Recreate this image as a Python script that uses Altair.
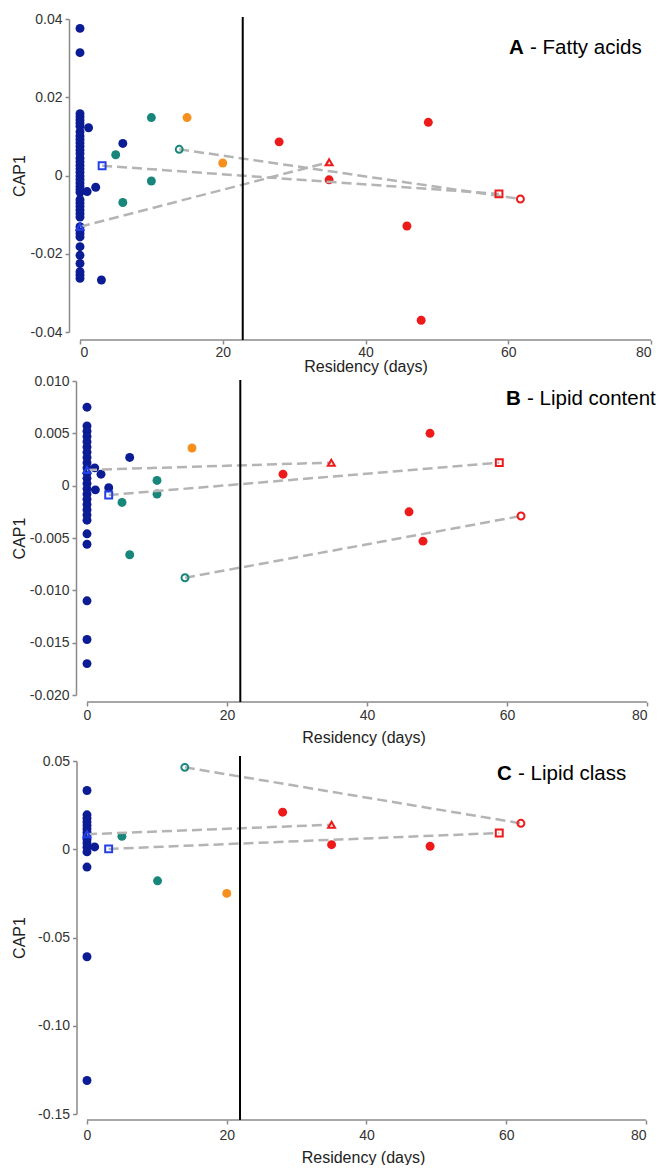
import altair as alt
import pandas as pd

FONT = "Liberation Sans"
NAVY, TEAL, ORANGE, RED, BLUE = "#0c1c94", "#17877b", "#f5901e", "#ee1a1a", "#2340e6"
GREY = "#b4b4b4"
AXIS_GREY = "#8a8a8a"

X_TICKS = [0, 20, 40, 60, 80]
X_MAX = 80

# ---------------- Panel A - Fatty acids ----------------
A_navy_day = [0, 0, 0, 0, 0, 0, 0, 0, 0, 0, 0, 0, 0, 0, 0, 0, 0, 0, 0, 0, 0, 0, 0, 0, 0,
              0, 0, 0, 0, 0, 0, 0, 0, 0, 0, 0, 0, 0, 0, 0, 0,
              1.2, 2.2, 1.0, 6.0, 3.0]
A_navy_cap = [0.0376, 0.0314, 0.0158, 0.0150, 0.0142, 0.0134, 0.0126, 0.0112, 0.0101, 0.0092,
              0.0083, 0.0074, 0.0065, 0.0056, 0.0044, 0.0035, 0.0026, 0.0017, 0.0008, -0.0001,
              -0.0010, -0.0019, -0.0028, -0.0036, -0.0043, -0.0062, -0.0070, -0.0079, -0.0088,
              -0.0097, -0.0106, -0.0131, -0.0140, -0.0148, -0.0157, -0.0182, -0.0204, -0.0225,
              -0.0246, -0.0254, -0.0263,
              0.0122, -0.0030, -0.0041, 0.0082, -0.0267]
A_teal_day = [5.0, 6.0, 10.0, 10.0]
A_teal_cap = [0.0053, -0.0069, 0.0148, -0.0014]
A_orange_day = [15.0, 20.0]
A_orange_cap = [0.0148, 0.0032]
A_red_day = [27.9, 34.9, 45.8, 47.8, 48.8]
A_red_cap = [0.0086, -0.0011, -0.0129, -0.0370, 0.0136]
A_path_kind = ["triangle", "square", "circle"]
A_path_from = ["blue", "blue", "teal"]
A_path_day0 = [0.0, 3.1, 13.9]
A_path_cap0 = [-0.0131, 0.0025, 0.0067]
A_path_day1 = [34.9, 58.7, 61.7]
A_path_cap1 = [0.0034, -0.0047, -0.0060]
A_cutoff = 22.8
A_y_ticks = [-0.04, -0.02, 0, 0.02, 0.04]

# ---------------- Panel B - Lipid content ----------------
B_navy_day = [0, 0, 0, 0, 0, 0, 0, 0, 0, 0, 0, 0, 0, 0, 0, 0, 0, 0, 0, 0, 0, 0, 0, 0, 0,
              1.1, 2.0, 1.2, 3.1, 6.1]
B_navy_cap = [0.0075, 0.0057, 0.0052, 0.0047, 0.0042, 0.0037, 0.0032, 0.0027, 0.0022, 0.0017,
              0.0012, 0.0007, 0.0002, -0.0003, -0.0008, -0.0013, -0.0018, -0.0023, -0.0028,
              -0.0033, -0.0046, -0.0056, -0.0110, -0.0147, -0.0170,
              0.0017, 0.0011, -0.0004, -0.0002, 0.0027]
B_teal_day = [5.0, 6.1, 10.0, 10.0]
B_teal_cap = [-0.0016, -0.0066, 0.0005, -0.0008]
B_orange_day = [15.0]
B_orange_cap = [0.0036]
B_red_day = [28.0, 46.0, 48.0, 49.0]
B_red_cap = [0.0011, -0.0025, -0.0053, 0.0050]
B_path_kind = ["triangle", "square", "circle"]
B_path_from = ["blue", "blue", "teal"]
B_path_day0 = [0.0, 3.1, 14.0]
B_path_cap0 = [0.0015, -0.0009, -0.0088]
B_path_day1 = [34.9, 58.9, 62.0]
B_path_cap1 = [0.0022, 0.0022, -0.0029]
B_cutoff = 21.9
B_y_ticks = [-0.020, -0.015, -0.010, -0.005, 0, 0.005, 0.010]

# ---------------- Panel C - Lipid class ----------------
C_navy_day = [0, 0, 0, 0, 0, 0, 0, 0, 0, 0, 0, 0, 0, 0, 0, 1.1]
C_navy_cap = [0.0333, 0.0195, 0.0175, 0.0155, 0.0135, 0.0115, 0.0095, 0.0075, 0.0055, 0.0035,
              0.0012, -0.0015, -0.0101, -0.0609, -0.1310, 0.0013]
C_teal_day = [5.0, 10.1]
C_teal_cap = [0.0073, -0.0179]
C_orange_day = [20.0]
C_orange_cap = [-0.0250]
C_red_day = [28.0, 35.0, 49.1]
C_red_cap = [0.0210, 0.0026, 0.0017]
C_path_kind = ["triangle", "square", "circle"]
C_path_from = ["blue", "blue", "teal"]
C_path_day0 = [0.0, 3.1, 14.0]
C_path_cap0 = [0.0085, 0.0002, 0.0464]
C_path_day1 = [35.0, 59.0, 62.1]
C_path_cap1 = [0.0139, 0.0092, 0.0147]
C_cutoff = 21.9
C_y_ticks = [-0.15, -0.10, -0.05, 0, 0.05]

GROUPS = ["navy", "teal", "orange", "red"]
GROUP_COLOURS = [NAVY, TEAL, ORANGE, RED]
KINDS = ["triangle", "square", "circle"]
KIND_SHAPES = ["triangle-up", "square", "circle"]
FROM = ["blue", "teal", "red"]
FROM_COLOURS = [BLUE, TEAL, RED]


def panel(d, cfg):
    rows = []
    for g in GROUPS:
        for x, y in zip(d[g + "_day"], d[g + "_cap"]):
            rows.append({"day": x, "cap": y, "group": g})
    pts = pd.DataFrame(rows)

    lines, opens = [], []
    for i, kind in enumerate(d["kind"]):
        lines.append({"day": d["day0"][i], "cap": d["cap0"][i], "path": i, "step": 0})
        lines.append({"day": d["day1"][i], "cap": d["cap1"][i], "path": i, "step": 1})
        opens.append({"day": d["day0"][i], "cap": d["cap0"][i], "kind": kind, "from": d["from"][i]})
        opens.append({"day": d["day1"][i], "cap": d["cap1"][i], "kind": kind, "from": "red"})
    lines = pd.DataFrame(lines)
    opens = pd.DataFrame(opens)

    fmt = cfg["fmt"]
    w, h = cfg["w"], cfg["h"]
    x_enc = alt.X("day:Q", scale=alt.Scale(domain=[cfg["x0"], X_MAX], nice=False, zero=False),
                  axis=alt.Axis(values=X_TICKS, title="Residency (days)", offset=cfg["xoff"],
                                domain=False, tickSize=4, labelPadding=cfg["xlabpad"],
                                titlePadding=cfg["xtitlepad"]))
    y_enc = alt.Y("cap:Q", scale=alt.Scale(domain=cfg["ydom"], nice=False, zero=False),
                  axis=alt.Axis(values=cfg["yticks"], title="CAP1", offset=cfg["yoff"], tickSize=4,
                                labelPadding=3, titleX=cfg["titlex"],
                                labelExpr="(datum.value < 0 ? '-' : '') + (datum.value == 0 ? '0' : format(abs(datum.value), '" + fmt + "'))"))

    # x-axis baseline, drawn from the first to the last tick
    baseline = alt.Chart(pd.DataFrame({"day": [X_TICKS[0]], "day2": [X_TICKS[-1]]})).mark_rule(
        color=AXIS_GREY, strokeWidth=1.5).encode(
        x=x_enc, x2="day2:Q", y=alt.value(h + cfg["xoff"]))

    dots = alt.Chart(pts).mark_circle(size=80, opacity=1).encode(
        x=x_enc, y=y_enc,
        color=alt.Color("group:N", scale=alt.Scale(domain=GROUPS, range=GROUP_COLOURS), legend=None))

    dash = alt.Chart(lines).mark_line(color=GREY, strokeWidth=2.5, strokeDash=[10, 5]).encode(
        x=x_enc, y=y_enc, detail="path:N", order="step:O")

    rule = alt.Chart(pd.DataFrame({"day": [d["cutoff"]]})).mark_rule(
        color="black", strokeWidth=2).encode(
        x=x_enc, y=alt.value(cfg["rtop"]), y2=alt.value(h + cfg["xoff"]))

    openm = alt.Chart(opens).mark_point(filled=False, strokeWidth=2, size=48, opacity=1).encode(
        x=x_enc, y=y_enc,
        shape=alt.Shape("kind:N", scale=alt.Scale(domain=KINDS, range=KIND_SHAPES), legend=None),
        color=alt.Color("from:N", scale=alt.Scale(domain=FROM, range=FROM_COLOURS), legend=None))

    lab1 = alt.Chart(pd.DataFrame({"t": [d["letter"]]})).mark_text(
        align="left", baseline="middle", fontSize=20.5, fontWeight="bold", font=FONT,
        color="black").encode(text="t:N", x=alt.value(cfg["tx"]), y=alt.value(cfg["ty"]))
    lab2 = alt.Chart(pd.DataFrame({"t": ["- " + d["name"]]})).mark_text(
        align="left", baseline="middle", fontSize=20.5, font=FONT,
        color="black").encode(text="t:N", x=alt.value(cfg["tx"] + 21), y=alt.value(cfg["ty"]))

    return alt.layer(baseline, dots, dash, rule, openm, lab1, lab2).resolve_scale(
        color="independent").properties(width=w, height=h)


A = dict(letter="A", name="Fatty acids",
         navy_day=A_navy_day, navy_cap=A_navy_cap, teal_day=A_teal_day, teal_cap=A_teal_cap,
         orange_day=A_orange_day, orange_cap=A_orange_cap, red_day=A_red_day, red_cap=A_red_cap,
         kind=A_path_kind, **{"from": A_path_from}, day0=A_path_day0, cap0=A_path_cap0,
         day1=A_path_day1, cap1=A_path_cap1, cutoff=A_cutoff)
B = dict(letter="B", name="Lipid content",
         navy_day=B_navy_day, navy_cap=B_navy_cap, teal_day=B_teal_day, teal_cap=B_teal_cap,
         orange_day=B_orange_day, orange_cap=B_orange_cap, red_day=B_red_day, red_cap=B_red_cap,
         kind=B_path_kind, **{"from": B_path_from}, day0=B_path_day0, cap0=B_path_cap0,
         day1=B_path_day1, cap1=B_path_cap1, cutoff=B_cutoff)
C = dict(letter="C", name="Lipid class",
         navy_day=C_navy_day, navy_cap=C_navy_cap, teal_day=C_teal_day, teal_cap=C_teal_cap,
         orange_day=C_orange_day, orange_cap=C_orange_cap, red_day=C_red_day, red_cap=C_red_cap,
         kind=C_path_kind, **{"from": C_path_from}, day0=C_path_day0, cap0=C_path_cap0,
         day1=C_path_day1, cap1=C_path_cap1, cutoff=C_cutoff)

cfgA = dict(w=571, h=313, x0=0, ydom=[-0.04, 0.04], yticks=A_y_ticks, fmt=".2f", xoff=8,
            yoff=11, xlabpad=1, xtitlepad=-1, titlex=-41.2, rtop=-2, tx=429, ty=29)
cfgB = dict(w=567, h=314, x0=-1, ydom=[-0.020, 0.010], yticks=B_y_ticks, fmt=".3f", xoff=7,
            yoff=4, xlabpad=2, xtitlepad=7, titlex=-48.5, rtop=-1, tx=426, ty=18)
cfgC = dict(w=566, h=353, x0=-1, ydom=[-0.15, 0.05], yticks=C_y_ticks, fmt=".2f", xoff=6,
            yoff=3.5, xlabpad=4, xtitlepad=7, titlex=-48.9, rtop=-5, tx=417, ty=13)

top = alt.vconcat(panel(A, cfgA), panel(B, cfgB), spacing=0)
chart = alt.vconcat(top, panel(C, cfgC), spacing=9).properties(
    padding={"left": 3, "top": 4, "right": 0, "bottom": 0}
).configure_axis(
    grid=False, labelFont=FONT, titleFont=FONT, labelFontSize=14, titleFontSize=16,
    titleFontWeight="normal", labelColor="#333333", titleColor="#222222",
    domainColor=AXIS_GREY, tickColor=AXIS_GREY, domainWidth=1.5, tickWidth=1.5
).configure_view(stroke=None)

chart.save("out.html", embed_options={"renderer": "svg", "actions": False})
